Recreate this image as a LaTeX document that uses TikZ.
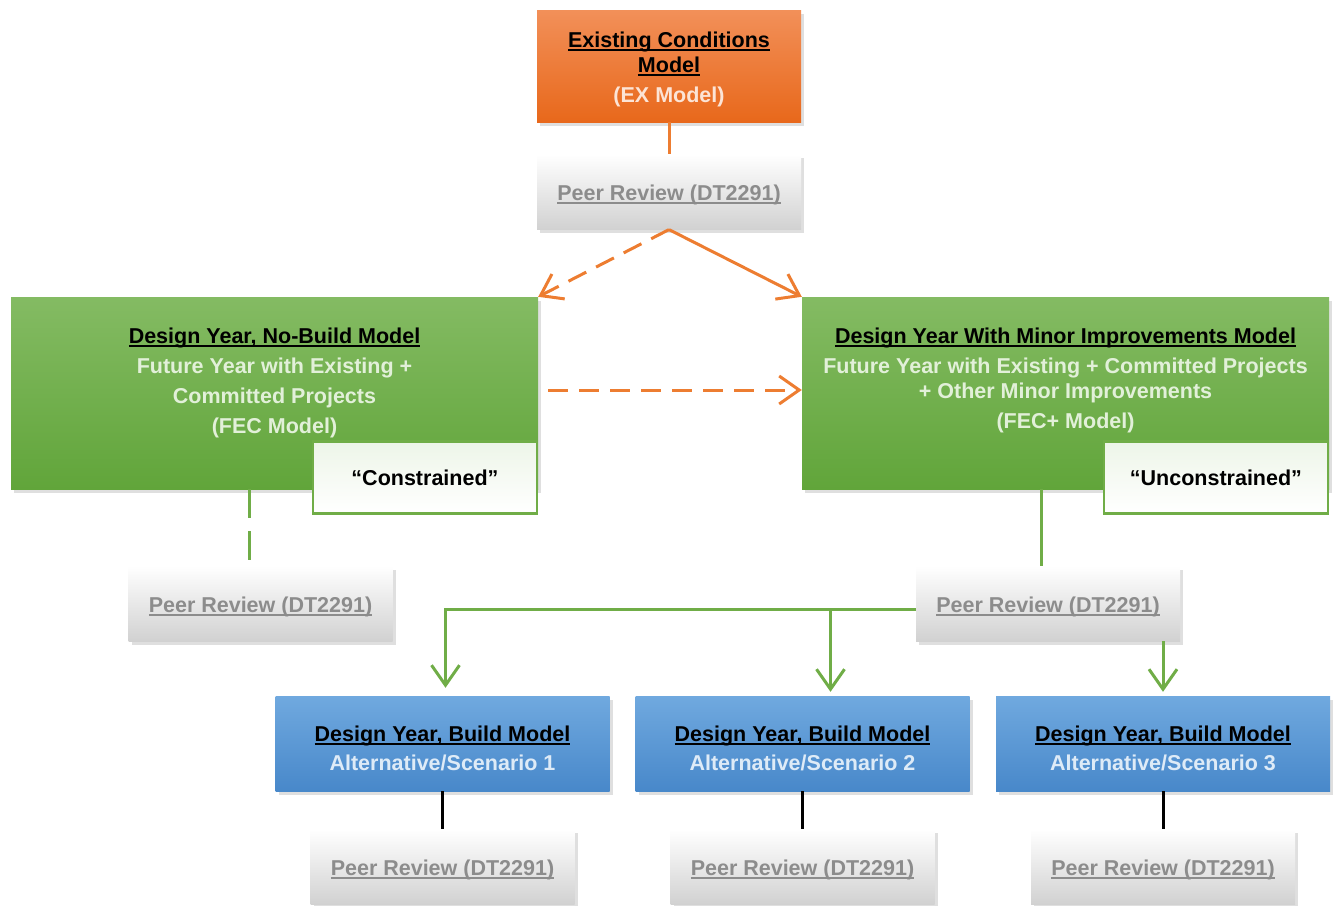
\documentclass[tikz,border=0pt]{standalone}
\usepackage{fontspec}
\setmainfont{Liberation Sans}
\usetikzlibrary{positioning,shadows,arrows.meta}
\newcommand{\uln}[1]{\setbox0\hbox{#1}\rlap{\copy0}\raisebox{-3.5pt}[0pt][0pt]{\rule{\wd0}{1.8pt}}}
\newcommand{\tstrut}[1]{\rule{0pt}{#1}}
\definecolor{extop}{HTML}{F29059}
\definecolor{exbot}{HTML}{E8681B}
\definecolor{exsub}{HTML}{FCE4D6}
\definecolor{exline}{HTML}{ED7D31}
\definecolor{grtop}{HTML}{84BB63}
\definecolor{grbot}{HTML}{61A53A}
\definecolor{grsub}{HTML}{E2F0D9}
\definecolor{grline}{HTML}{70AD47}
\definecolor{tagtop}{HTML}{EDF5E8}
\definecolor{bltop}{HTML}{70A9DF}
\definecolor{blbot}{HTML}{4888CA}
\definecolor{blsub}{HTML}{DEEBF7}
\definecolor{revtext}{HTML}{8C8C8C}
\tikzset{
  box/.style={rectangle,inner sep=0pt,align=center,
    font=\bfseries\fontsize{21.5}{25}\selectfont,
    drop shadow={shadow xshift=3pt,shadow yshift=-4pt,opacity=0.25}},
  exbox/.style={box,top color=extop,bottom color=exbot,minimum width=264pt,minimum height=112pt},
  review/.style={box,top color=white,bottom color=black!18,text=revtext,minimum width=264pt,minimum height=75pt,
    execute at begin node={\tstrut{22pt}}},
  greenbox/.style={box,top color=grtop,bottom color=grbot,minimum width=527pt,minimum height=192pt},
  greentext/.style={align=center,text=grsub,inner sep=0pt,font=\bfseries\fontsize{21.5}{25}\selectfont},
  buildbox/.style={box,top color=bltop,bottom color=blbot,text=blsub,minimum width=334pt,minimum height=95pt},
  tagbox/.style={rectangle,draw=grline,line width=2.5pt,top color=tagtop,middle color=tagtop,bottom color=white,
    minimum width=224pt,minimum height=72pt,font=\bfseries\fontsize{21.5}{25}\selectfont},
  oline/.style={draw=exline,line width=3pt},
  odash/.style={oline,dash pattern=on 20pt off 11pt},
  gline/.style={draw=grline,line width=3pt},
  gdash/.style={gline,dash pattern=on 29pt off 13pt},
  barb/.style={-{Straight Barb[length=20pt,width=28pt]}}
}
\begin{document}
\begin{tikzpicture}[x=1pt,y=-1pt]
    % Fix the canvas to the size of the page
    \useasboundingbox (0,0) rectangle (1333,905);

    % Define the existing conditions model and its review
    \node [exbox] (ex) at (669,66)
      {\tstrut{22pt}\textcolor{black}{\uln{Existing Conditions}}\\\textcolor{black}{\uln{Model}}\\[5pt]\textcolor{exsub}{(EX Model)}};
    \node [review, below=32pt of ex] (pr) {\uln{Peer Review (DT2291)}};

    % Define the two design year models
    \node [greenbox] (nb) at (274.5,393) {};
    \node [greentext] (nbt) at ([yshift=10pt]nb.center)
      {\textcolor{black}{\uln{Design Year, No-Build Model}}\\[5pt]Future Year with Existing +\\[5pt]Committed Projects\\[5pt](FEC Model)};
    \node [tagbox, anchor=north east] (con) at ([yshift=49pt]nb.south east) {“Constrained”};

    \node [greenbox] (mi) at (1065.5,393) {};
    \node [greentext] (mit) at ([yshift=13pt]mi.center)
      {\textcolor{black}{\uln{Design Year With Minor Improvements Model}}\\[5pt]Future Year with Existing + Committed Projects\\+ Other Minor Improvements\\[5pt](FEC+ Model)};
    \node [tagbox, anchor=north east] (unc) at ([yshift=49pt]mi.south east) {“Unconstrained”};

    % Reviews of the design year models
    \node [review] (prl) at (260.5,603.5) {\uln{Peer Review (DT2291)}};
    \node [review] (prr) at (1048,603.5) {\uln{Peer Review (DT2291)}};

    % Build alternatives and their reviews
    \node [buildbox] (b1) at (442.5,743.5) {\tstrut{26pt}\textcolor{black}{\uln{Design Year, Build Model}}\\[4pt]Alternative/Scenario 1};
    \node [buildbox] (b2) at (802.5,743.5) {\tstrut{26pt}\textcolor{black}{\uln{Design Year, Build Model}}\\[4pt]Alternative/Scenario 2};
    \node [buildbox] (b3) at (1163,743.5) {\tstrut{26pt}\textcolor{black}{\uln{Design Year, Build Model}}\\[4pt]Alternative/Scenario 3};
    \node [review, below=38pt of b1] (p1) {\uln{Peer Review (DT2291)}};
    \node [review, below=38pt of b2] (p2) {\uln{Peer Review (DT2291)}};
    \node [review, below=38pt of b3] (p3) {\uln{Peer Review (DT2291)}};

    % Draw the connectors
    \draw [oline] (ex.south) -- (pr.north);
    \draw [odash, barb] (pr.south) -- (nb.north east);
    \draw [oline, barb] (pr.south) -- (mi.north west);
    \draw [odash, barb] ([xshift=10pt,yshift=3pt]nb.east) -- ([yshift=3pt]mi.west);
    \draw [gdash] ([xshift=-11pt]prl.north |- nb.south) -- ([xshift=-11pt]prl.north);
    \draw [gline] ([xshift=-7pt]prr.north |- mi.south) -- ([xshift=-7pt]prr.north);
    \draw [gline, barb, shorten >=8pt] ([yshift=-6pt]prr.west) -| ([xshift=3pt]b1.north);
    \draw [gline, barb, shorten >=4pt] ([yshift=-6pt]prr.west) -| ([xshift=28pt]b2.north);
    \draw [gline, barb, shorten >=4pt] (prr.south -| b3.north) -- (b3.north);
    \foreach \i in {1,2,3}
      \draw [line width=3pt] (b\i.south) -- (p\i.north);
\end{tikzpicture}
\end{document}
